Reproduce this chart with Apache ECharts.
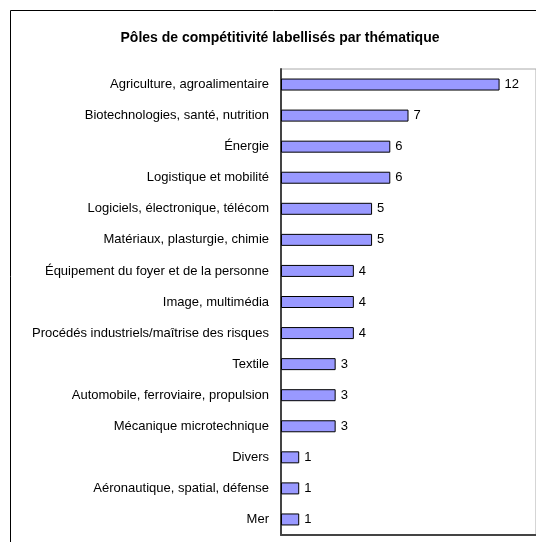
<!DOCTYPE html>
<html>
<head>
<meta charset="utf-8">
<script src="https://cdn.jsdelivr.net/npm/echarts@6/dist/echarts.min.js"></script>
<style>
  html, body { margin: 0; padding: 0; background: #fff; }
  #chart { width: 536px; height: 542px; }
</style>
</head>
<body>
<div id="chart"></div>
<script>
// données du graphique
const categories = [
  'Agriculture, agroalimentaire',
  'Biotechnologies, santé, nutrition',
  'Énergie',
  'Logistique et mobilité',
  'Logiciels, électronique, télécom',
  'Matériaux, plasturgie, chimie',
  'Équipement du foyer et de la personne',
  'Image, multimédia',
  'Procédés industriels/maîtrise des risques',
  'Textile',
  'Automobile, ferroviaire, propulsion',
  'Mécanique microtechnique',
  'Divers',
  'Aéronautique, spatial, défense',
  'Mer'
];
const values = [12, 7, 6, 6, 5, 5, 4, 4, 4, 3, 3, 3, 1, 1, 1];

const chart = echarts.init(document.getElementById('chart'));

const option = {
  animation: false,
  backgroundColor: '#fff',
  textStyle: { fontFamily: 'Liberation Sans, Arial, sans-serif' },
  title: {
    text: 'Pôles de compétitivité labellisés par thématique',
    left: 275,
    top: 26,
    textAlign: 'center',
    textStyle: { fontSize: 14, fontWeight: 'bold', color: '#000' }
  },
  graphic: [
    {
      type: 'rect',
      shape: { x: 10.5, y: 10.5, width: 600, height: 600 },
      style: { fill: 'none', stroke: '#000', lineWidth: 1 },
      z: -1
    }
  ],
  grid: {
    left: 281,
    top: 69,
    width: 257,
    height: 466,
    show: true,
    borderColor: '#aaa',
    borderWidth: 1
  },
  xAxis: {
    type: 'value',
    min: 0,
    max: 14,
    axisLine: { show: true, lineStyle: { color: '#444', width: 2 } },
    axisTick: { show: false },
    axisLabel: { show: false },
    splitLine: { show: false }
  },
  yAxis: {
    type: 'category',
    data: categories,
    inverse: true,
    axisLine: { show: true, lineStyle: { color: '#444', width: 2 } },
    axisTick: { show: false },
    axisLabel: { color: '#000', fontSize: 13, margin: 12 }
  },
  series: [
    {
      type: 'bar',
      data: values,
      barWidth: 12,
      itemStyle: { color: '#9999ff', borderColor: '#000', borderWidth: 1 },
      label: {
        show: true,
        position: 'right',
        distance: 5,
        color: '#000',
        fontSize: 13
      }
    }
  ]
};

chart.setOption(option);
</script>
</body>
</html>
